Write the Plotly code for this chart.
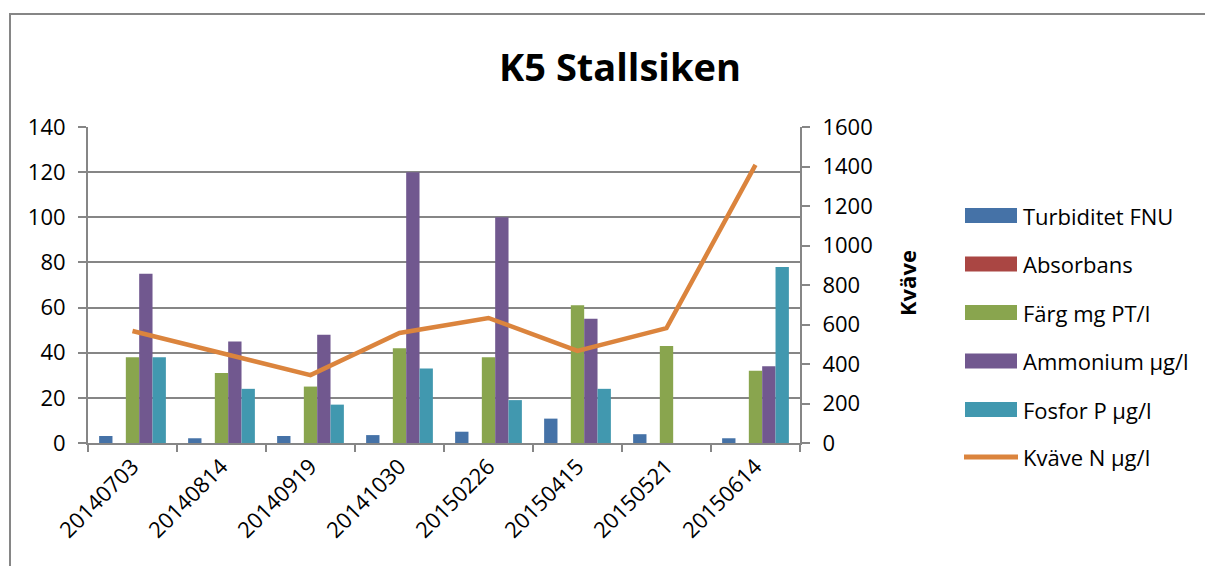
import plotly.graph_objects as go

dates = ["20140703", "20140814", "20140919", "20141030", "20150226", "20150415", "20150521", "20150614"]
turbiditet = [3.1, 2.1, 3.1, 3.5, 5.0, 10.8, 3.9, 2.1]
absorbans = [0, 0, 0, 0, 0, 0, 0, 0]
farg = [38, 31, 25, 42, 38, 61, 43, 32]
ammonium = [75, 45, 48, 120, 100, 55, None, 34]
fosfor = [38, 24, 17, 33, 19, 24, None, 78]
kvave = [567, 455, 344, 557, 633, 466, 582, 1408]

series_names = ["Turbiditet FNU", "Absorbans", "Färg mg PT/l", "Ammonium µg/l", "Fosfor P µg/l", "Kväve N µg/l"]
colors = ["#4572A7", "#AA4643", "#89A54E", "#71588F", "#4198AF", "#DB843D"]

FONT = "Open Sans"
OFF = 8  # page body margin
W, H = 1213 - OFF, 566 - OFF
L, T = 88 - OFF, 127 - OFF
pw, ph = 712, 316
R = W - L - pw
B = H - T - ph


def px(x):
    return (x - OFF - L) / pw


def py(y):
    return 1 - (y - OFF - T) / ph


fig = go.Figure()
bar_vals = [turbiditet, absorbans, farg, ammonium, fosfor]
for name, vals, col in zip(series_names[:5], bar_vals, colors[:5]):
    fig.add_trace(go.Bar(x=dates, y=vals, name=name, marker_color=col,
                         marker_line_width=0, showlegend=False))
fig.add_trace(go.Scatter(x=dates, y=kvave, name=series_names[5], mode="lines",
                         line=dict(color=colors[5], width=4.5), yaxis="y2", showlegend=False))

gray = "#868686"
fig.update_layout(
    width=W, height=H,
    margin=dict(l=L, r=R, t=T, b=B, autoexpand=False),
    paper_bgcolor="white", plot_bgcolor="white",
    font=dict(family=FONT, size=22, color="black"),
    title=dict(text="<b>K5 Stallsiken</b>", x=(620 - OFF) / W, xanchor="center",
               y=1 - (68 - OFF) / H, yanchor="middle", font=dict(size=38, family=FONT)),
    barmode="group", bargap=0.25, bargroupgap=0,
    showlegend=False,
    xaxis=dict(type="category", tickangle=-45, ticks="outside", tickson="boundaries",
               ticklen=7, tickcolor=gray, tickwidth=2, showline=True, linecolor=gray,
               linewidth=2, showgrid=False, tickfont=dict(size=22), automargin=False),
    yaxis=dict(range=[0, 140], dtick=20, showgrid=True, gridcolor=gray, gridwidth=1.5,
               showline=True, linecolor=gray, linewidth=2, ticks="outside",
               ticklen=8, tickcolor=gray, tickwidth=2, zeroline=False,
               ticklabelstandoff=8,
               tickfont=dict(size=22), automargin=False),
    yaxis2=dict(range=[0, 1600], dtick=200, overlaying="y", side="right", showgrid=False,
                showline=True, linecolor=gray, linewidth=2, ticks="outside",
                ticklen=8, tickcolor=gray, tickwidth=2, zeroline=False,
                ticklabelstandoff=8,
                tickfont=dict(size=22), automargin=False),
)

# axis title for right axis
fig.add_annotation(text="<b>Kväve</b>", xref="paper", yref="paper", x=px(907), y=py(283),
                   textangle=-90, showarrow=False, font=dict(size=22, family=FONT),
                   xanchor="center", yanchor="middle")

# legend drawn manually
rows = [215.5, 264, 312.5, 361, 409.5, 457]
for i, (name, col, yc) in enumerate(zip(series_names, colors, rows)):
    if i < 5:
        fig.add_shape(type="rect", xref="paper", yref="paper",
                      x0=px(965), x1=px(1017), y0=py(yc + 7.5), y1=py(yc - 7.5),
                      fillcolor=col, line=dict(width=0))
    else:
        fig.add_shape(type="line", xref="paper", yref="paper",
                      x0=px(964), x1=px(1018), y0=py(yc), y1=py(yc),
                      line=dict(color=col, width=5))
    fig.add_annotation(text=name, xref="paper", yref="paper", x=px(1021), y=py(yc),
                       xanchor="left", yanchor="middle", showarrow=False,
                       font=dict(size=22, family=FONT))

# outer chart border
fig.add_shape(type="rect", xref="paper", yref="paper",
              x0=px(10), x1=px(1240), y0=py(600), y1=py(14),
              line=dict(color=gray, width=2), layer="below")
fig.write_html("out.html")
